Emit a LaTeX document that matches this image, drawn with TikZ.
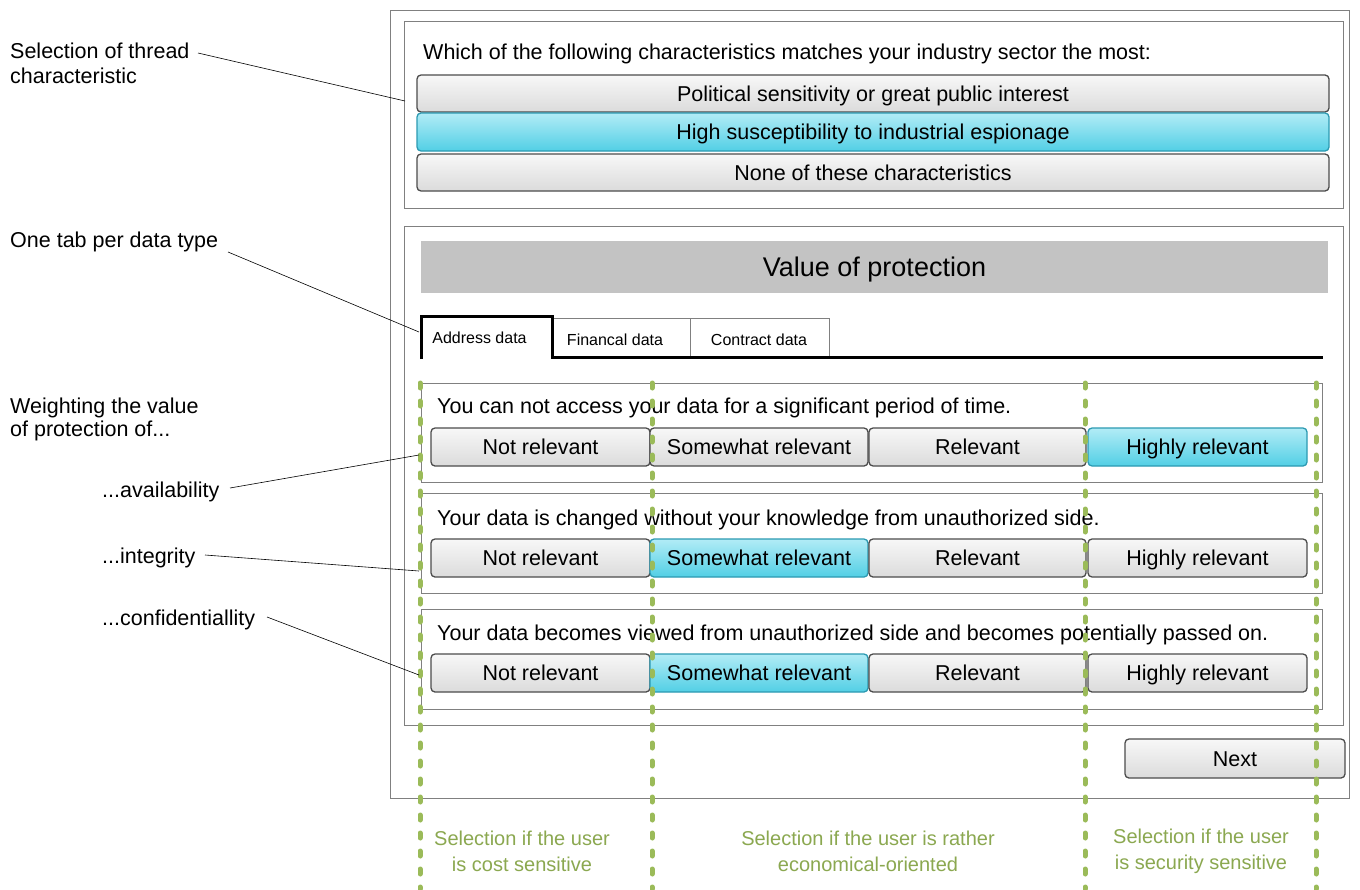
\documentclass[tikz,border=0pt]{standalone}
\usepackage{fontspec}
\setmainfont{Liberation Sans}
\definecolor{selb}{HTML}{2C9AB2}
\definecolor{seltop}{HTML}{B2ECF6}
\definecolor{selmid}{HTML}{6ED8EA}
\definecolor{selbot}{HTML}{52CFE5}
\definecolor{grn}{HTML}{9BBB59}
\definecolor{hdr}{HTML}{C3C3C3}
\definecolor{frm}{HTML}{808080}
\begin{document}
\begin{tikzpicture}[x=1pt,y=-1pt,
  frame/.style={draw=frm, line width=1pt},
  btn/.style={draw=black!70, line width=1.3pt, rounded corners=4pt, top color=gray!6, middle color=gray!14, bottom color=gray!28, inner sep=0pt, text height=15.5pt, text depth=0pt, font=\fontsize{21.5}{24}\selectfont},
  selbtn/.style={btn, draw=selb, top color=seltop, middle color=selmid, bottom color=selbot},
  ann/.style={anchor=base west, inner sep=0pt, font=\fontsize{21.5}{24}\selectfont},
  lead/.style={draw=black, line width=0.6pt},
  qtext/.style={anchor=base west, inner sep=0pt, font=\fontsize{21.5}{24}\selectfont},
  tabtext/.style={inner sep=0pt, text height=11.5pt, text depth=0pt, font=\fontsize{16}{18}\selectfont},
  gline/.style={draw=grn, line width=5pt, line cap=round, dash pattern=on 5pt off 13pt},
  gtext/.style={text=grn!90!black, align=center, font=\fontsize{20}{26}\selectfont, inner sep=0pt}]
\useasboundingbox (0,0) rectangle (1360,889);
\fill[white] (0,0) rectangle (1360,889);

% frames
\draw[frame] (390,10) rectangle (1349,798);
\draw[frame] (404,21) rectangle (1343,208);
\draw[frame] (404,226) rectangle (1343,725);

% top question
\node[qtext] (q0) at (423,59) {Which of the following characteristics matches your industry sector the most:};
\node[btn, minimum width=912, minimum height=37] (t1) at (873,93.5) {Political sensitivity or great public interest};
\node[selbtn, minimum width=912, minimum height=38] (t2) at (873,132) {High susceptibility to industrial espionage};
\node[btn, minimum width=912, minimum height=37] (t3) at (873,172.5) {None of these characteristics};

% header
\node[fill=hdr, minimum width=907, minimum height=52, inner sep=0pt, text height=19.5pt, text depth=0pt, font=\fontsize{27}{30}\selectfont] (hd) at (874.5,267) {Value of protection};

% tabs
\draw[frame, line width=0.8pt] (552,318) rectangle (690,357);
\draw[frame, line width=0.8pt] (690,318) rectangle (829,357);
\draw[black, line width=3pt] (421,359) -- (421,316) -- (552,316) -- (552,357) -- (1323,357);
\node[tabtext] (tab1) at (479.5,338) {Address data};
\node[tabtext] (tab2) at (615,340) {Financal data};
\node[tabtext] (tab3) at (759,340) {Contract data};

% question boxes
\draw[frame] (421,383) rectangle (1322,482);
\draw[frame] (421,493) rectangle (1322,593);
\draw[frame] (421,609) rectangle (1322,709);

\node[qtext] (qa) at (437,413) {You can not access your data for a significant period of time.};
\node[qtext] (qb) at (437,525) {Your data is changed without your knowledge from unauthorized side.};
\node[qtext] (qc) at (437,640) {Your data becomes viewed from unauthorized side and becomes potentially passed on.};

% row 1
\node[btn, minimum width=219, minimum height=38] (a1) at (540.5,447) {Not relevant};
\node[btn, minimum width=218, minimum height=38] (a2) at (759,447) {Somewhat relevant};
\node[btn, minimum width=217, minimum height=38] (a3) at (977.5,447) {Relevant};
\node[selbtn, minimum width=219, minimum height=38] (a4) at (1197.5,447) {Highly relevant};
% row 2
\node[btn, minimum width=219, minimum height=38] (b1) at (540.5,558) {Not relevant};
\node[selbtn, minimum width=218, minimum height=38] (b2) at (759,558) {Somewhat relevant};
\node[btn, minimum width=217, minimum height=38] (b3) at (977.5,558) {Relevant};
\node[btn, minimum width=219, minimum height=38] (b4) at (1197.5,558) {Highly relevant};
% row 3
\node[btn, minimum width=219, minimum height=38] (c1) at (540.5,673) {Not relevant};
\node[selbtn, minimum width=218, minimum height=38] (c2) at (759,673) {Somewhat relevant};
\node[btn, minimum width=217, minimum height=38] (c3) at (977.5,673) {Relevant};
\node[btn, minimum width=219, minimum height=38] (c4) at (1197.5,673) {Highly relevant};

% next
\node[btn, minimum width=220, minimum height=39] (nx) at (1235,758.5) {Next};

% green dashed lines
\foreach \gx in {420,652,1085,1316} {
  \draw[gline] (\gx,383) -- (\gx,889);
}
\node[gtext] (g1) at (522,851) {Selection if the user\\is cost sensitive};
\node[gtext] (g2) at (868,851) {Selection if the user is rather\\economical-oriented};
\node[gtext] (g3) at (1201,851) {Selection if the user\\is security sensitive};

% annotations
\node[ann] (n1) at (10,58) {Selection of thread};
\node[ann] (n1b) at (10,83) {characteristic};
\node[ann] (n2) at (10,247) {One tab per data type};
\node[ann] (n3) at (10,413) {Weighting the value};
\node[ann] (n3b) at (10,436) {of protection of...};
\node[ann] (n4) at (102,497) {...availability};
\node[ann] (n5) at (102,563) {...integrity};
\node[ann] (n6) at (102,625) {...confidentiallity};

\coordinate (s1) at (198,53);
\coordinate (s2) at (228,252);
\coordinate (s4) at (230,488);
\coordinate (s5) at (205,555);
\coordinate (s6) at (267,617);
\coordinate (e1) at (405,101);
\coordinate (e2) at (419,332);
\coordinate (e4) at (419,455);
\coordinate (e5) at (419,571);
\coordinate (e6) at (419,675);
\draw[lead] (s1) -- (e1);
\draw[lead] (s2) -- (e2);
\draw[lead] (s4) -- (e4);
\draw[lead] (s5) -- (e5);
\draw[lead] (s6) -- (e6);
\end{tikzpicture}
\end{document}
